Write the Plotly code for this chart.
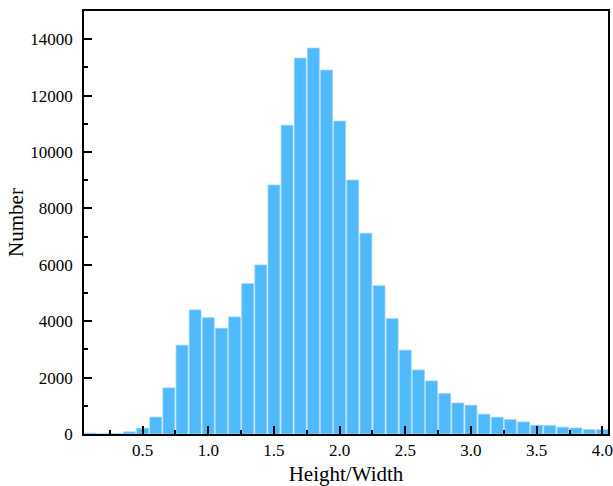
import plotly.graph_objects as go

# Histogram bin centres (Height/Width ratio) and counts per bin
bin_centers = [0.1, 0.2, 0.3, 0.4, 0.5, 0.6, 0.7, 0.8, 0.9, 1.0,
               1.1, 1.2, 1.3, 1.4, 1.5, 1.6, 1.7, 1.8, 1.9, 2.0,
               2.1, 2.2, 2.3, 2.4, 2.5, 2.6, 2.7, 2.8, 2.9, 3.0,
               3.1, 3.2, 3.3, 3.4, 3.5, 3.6, 3.7, 3.8, 3.9, 4.0]
counts = [30, 5, 10, 75, 205, 600, 1635, 3150, 4400, 4125,
          3750, 4150, 5330, 5995, 8830, 10945, 13330, 13685, 12905, 11095,
          9005, 7120, 5255, 4090, 2970, 2270, 1880, 1430, 1100, 1020,
          700, 595, 510, 428, 310, 296, 240, 214, 155, 152]

x_ticks = [0.5, 1.0, 1.5, 2.0, 2.5, 3.0, 3.5, 4.0]
y_ticks = [0, 2000, 4000, 6000, 8000, 10000, 12000, 14000]

serif = "Liberation Serif, Times New Roman, serif"

fig = go.Figure(
    go.Bar(
        x=bin_centers,
        y=counts,
        width=0.09,
        marker=dict(color="#50b9fb", line=dict(color="#8fd2fd", width=0.8)),
        hoverinfo="x+y",
    )
)

fig.update_layout(
    width=613,
    height=486,
    margin=dict(l=84, r=5, t=11, b=52),
    paper_bgcolor="white",
    plot_bgcolor="white",
    showlegend=False,
    font=dict(family=serif, size=17, color="black"),
)

fig.update_xaxes(
    range=[0.054, 4.043],
    tickvals=x_ticks,
    ticktext=[f"{v:.1f}" for v in x_ticks],
    ticks="inside",
    ticklen=8,
    tickwidth=1.5,
    tickcolor="black",
    minor=dict(ticks="inside", ticklen=4, tickwidth=1.5, tickcolor="black", dtick=0.25, tick0=0.25),
    showline=True,
    linecolor="black",
    linewidth=1.5,
    mirror=True,
    showgrid=False,
    zeroline=False,
    automargin=False,
    tickfont=dict(family=serif, size=17),
    title=dict(text="Height/Width", font=dict(family=serif, size=21), standoff=14),
)

fig.update_yaxes(
    range=[0, 15000],
    tickvals=y_ticks,
    ticktext=[str(v) for v in y_ticks],
    ticks="inside",
    ticklen=8,
    tickwidth=1.5,
    tickcolor="black",
    minor=dict(ticks="inside", ticklen=4, tickwidth=1.5, tickcolor="black", dtick=1000, tick0=0),
    showline=True,
    linecolor="black",
    linewidth=1.5,
    mirror=True,
    showgrid=False,
    zeroline=False,
    automargin=False,
    ticklabelstandoff=6,
    tickfont=dict(family=serif, size=17),
    title=dict(text="Number", font=dict(family=serif, size=21), standoff=1),
)

fig.write_html("out.html")
